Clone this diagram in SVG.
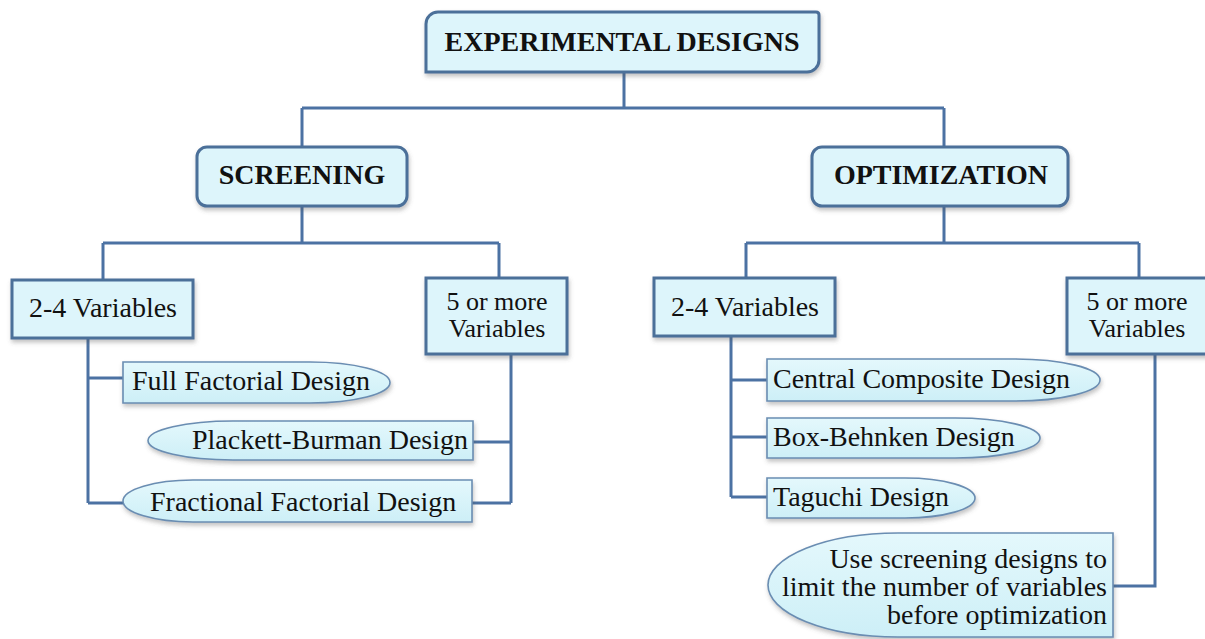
<svg xmlns="http://www.w3.org/2000/svg" width="1205" height="639" viewBox="0 0 1205 639">
  <defs>
    <filter id="shadow" x="-10%" y="-20%" width="120%" height="150%">
      <feDropShadow dx="1" dy="3" stdDeviation="2" flood-color="#555" flood-opacity="0.35"/>
    </filter>
    <linearGradient id="leafFill" x1="0" y1="0" x2="0" y2="1">
      <stop offset="0" stop-color="#e4f8fc"/>
      <stop offset="1" stop-color="#cdeff7"/>
    </linearGradient>
  </defs>
  <style>
    .box { fill: #ddf5fb; stroke: #4b6f99; stroke-width: 3; filter: url(#shadow); }
    .leaf { fill: url(#leafFill); stroke: #6a8db2; stroke-width: 1.6; filter: url(#shadow); }
    .wire { fill: none; stroke: #4c72a3; stroke-width: 3; }
    .head { font-family: "Liberation Serif", "Times New Roman", serif; font-weight: bold; font-size: 28px; fill: #111; text-anchor: middle; }
    .lbl { font-family: "Liberation Serif", "Times New Roman", serif; font-size: 28px; fill: #111; }
    .two { font-size: 26px; }
    .mid { text-anchor: middle; }
    .end { text-anchor: end; }
  </style>

  <rect width="1205" height="639" fill="#ffffff"/>

  <!-- connectors -->
  <g id="connectors" class="wire">
    <path d="M624,72 V108 M302,108 H944 M302,108 V147 M944,108 V147"/>
    <path d="M302,206 V243 M103,243 H499 M103,243 V279 M499,243 V278"/>
    <path d="M944,206 V243 M746,243 H1139 M746,243 V278 M1139,243 V279"/>
    <path d="M88,338 V503 M88,378 H123 M88,503 H123"/>
    <path d="M511,354 V503 M473,442 H511 M472,503 H511"/>
    <path d="M731,336 V497 M731,380 H767 M731,437 H767 M731,497 H767"/>
    <path d="M1155,354 V586 H1113"/>
  </g>

  <!-- root -->
  <g id="experimental-designs">
    <path class="box" d="M438,12 H816 Q819,12 819,15 V60 A12,12 0 0 1 807,72 H426 V24 A12,12 0 0 1 438,12 Z"/>
    <text class="head" x="622" y="51">EXPERIMENTAL DESIGNS</text>
  </g>

  <!-- level 1 -->
  <g id="screening">
    <rect class="box" x="197" y="147" width="210" height="59" rx="10"/>
    <text class="head" x="302" y="184">SCREENING</text>
  </g>
  <g id="optimization">
    <rect class="box" x="812" y="147" width="256" height="59" rx="10"/>
    <text class="head" x="941" y="184">OPTIMIZATION</text>
  </g>

  <!-- level 2: screening -->
  <g id="screening-2-4">
    <rect class="box" x="12" y="280" width="181" height="58"/>
    <text class="lbl mid" x="103" y="317">2-4 Variables</text>
  </g>
  <g id="screening-5plus">
    <rect class="box" x="426" y="278" width="141" height="76"/>
    <text class="lbl two mid" x="497" y="310">5 or more</text>
    <text class="lbl two mid" x="497" y="337">Variables</text>
  </g>

  <!-- level 2: optimization -->
  <g id="optimization-2-4">
    <rect class="box" x="654" y="278" width="181" height="58"/>
    <text class="lbl mid" x="745" y="316">2-4 Variables</text>
  </g>
  <g id="optimization-5plus">
    <rect class="box" x="1067" y="278" width="142" height="76"/>
    <text class="lbl two mid" x="1137" y="310">5 or more</text>
    <text class="lbl two mid" x="1137" y="337">Variables</text>
  </g>

  <!-- screening designs -->
  <g id="full-factorial">
    <path class="leaf" d="M123,362 H310 A80,20.5 0 0 1 310,403 H123 Z"/>
    <text class="lbl" x="132" y="390">Full Factorial Design</text>
  </g>
  <g id="plackett-burman">
    <path class="leaf" d="M473,421 V460 H233 A85,19.5 0 0 1 233,421 Z"/>
    <text class="lbl end" x="468" y="449">Plackett-Burman Design</text>
  </g>
  <g id="fractional-factorial">
    <path class="leaf" d="M472,480 V522 H193 A70,21 0 0 1 193,480 Z"/>
    <text class="lbl" x="150" y="511">Fractional Factorial Design</text>
  </g>

  <!-- optimization designs -->
  <g id="central-composite">
    <path class="leaf" d="M767,359 H1015 A85,21 0 0 1 1015,401 H767 Z"/>
    <text class="lbl" x="773" y="388">Central Composite Design</text>
  </g>
  <g id="box-behnken">
    <path class="leaf" d="M767,418 H955 A85,20 0 0 1 955,458 H767 Z"/>
    <text class="lbl" x="773" y="446">Box-Behnken Design</text>
  </g>
  <g id="taguchi">
    <path class="leaf" d="M767,478 H905 A70,20 0 0 1 905,518 H767 Z"/>
    <text class="lbl" x="773" y="506">Taguchi Design</text>
  </g>
  <g id="screening-note">
    <path class="leaf" d="M1113,533 V637 H898 A130,52 0 0 1 898,533 Z"/>
    <text class="lbl end" x="1107" y="568">Use screening designs to</text>
    <text class="lbl end" x="1107" y="596">limit the number of variables</text>
    <text class="lbl end" x="1107" y="624">before optimization</text>
  </g>
</svg>
